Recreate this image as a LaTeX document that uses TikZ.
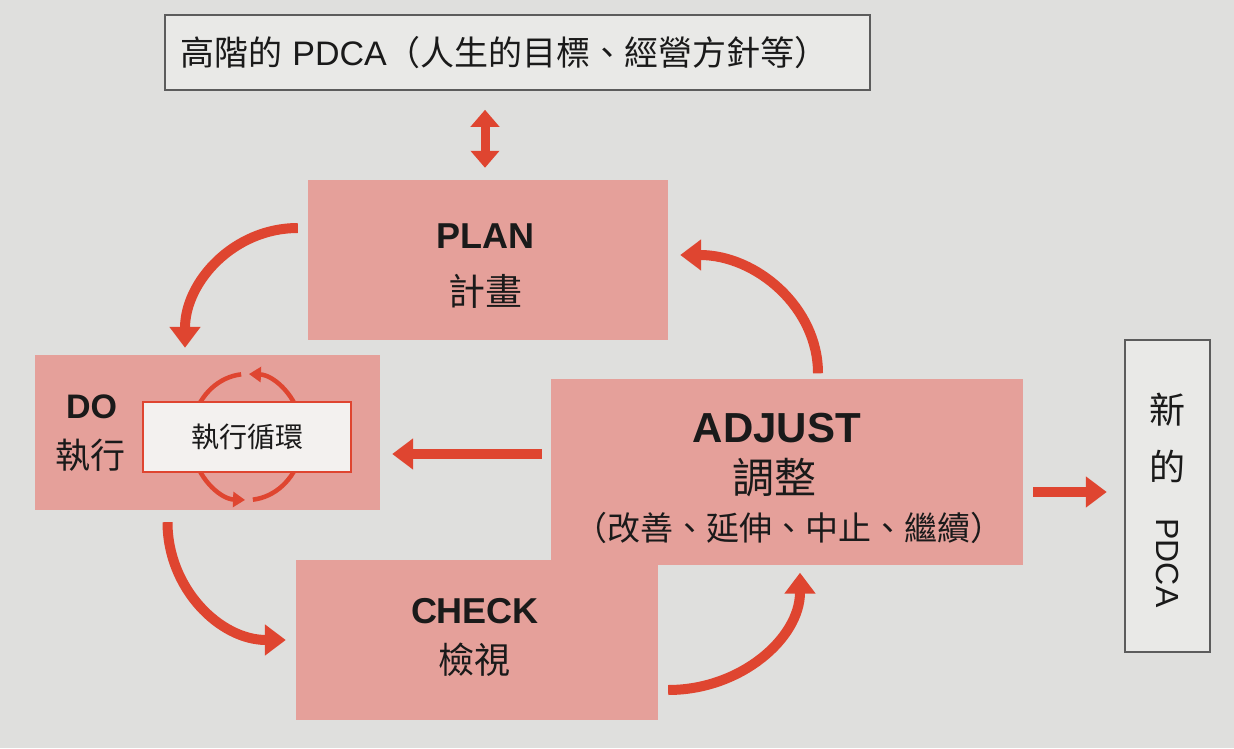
\documentclass[tikz,border=0pt]{standalone}
\usepackage{fontspec}
\setmainfont{Liberation Sans}
\newfontfamily\cjk{Noto Sans CJK TC}
\usetikzlibrary{arrows.meta,calc}

\definecolor{paper}{HTML}{DFDFDD}
\definecolor{boxpink}{HTML}{E5A09A}
\definecolor{arrowred}{HTML}{DF4530}
\definecolor{ink}{HTML}{1A1A1A}
\definecolor{frame}{HTML}{5C5C5C}
\definecolor{innerfill}{HTML}{F3F1EF}

\newcommand{\fs}[1]{\fontsize{#1}{#1}\selectfont}

\begin{document}
\begin{tikzpicture}[x=1pt,y=1pt,
  stagebox/.style={fill=boxpink, draw=none, inner sep=0pt},
  outlinebox/.style={draw=frame, line width=2.5pt, fill=paper!70!white, inner sep=0pt},
  innerbox/.style={draw=arrowred, line width=2.5pt, fill=innerfill, inner sep=0pt},
  txt/.style={text=ink, inner sep=0pt, anchor=center},
  flow/.style={draw=arrowred, line width=10pt, -{Triangle[width=30pt,length=21pt]}},
  twoway/.style={draw=arrowred, line width=9pt, {Triangle[width=28pt,length=17pt]}-{Triangle[width=28pt,length=17pt]}},
  cycle/.style={draw=arrowred, line width=4.5pt},
  cyclehead/.style={cycle, -{Triangle[width=15pt,length=12pt]}}
]
% paper
\fill[paper] (0,0) rectangle (1234,748);
\useasboundingbox (0,0) rectangle (1234,748);

% frames
\node[outlinebox, minimum width=705pt, minimum height=75pt] (top) at (517.5,695.5) {};
\node[txt, anchor=west] (toptext) at ($(top.west)+(17,0)$)
  {\fs{34}{\cjk 高階的} PDCA{\cjk （人生的目標、經營方針等）}};

\node[stagebox, minimum width=360pt, minimum height=160pt] (plan) at (488,488) {};
\node[stagebox, minimum width=345pt, minimum height=155pt] (do) at (207.5,315.5) {};
\node[stagebox, minimum width=472pt, minimum height=185pt] (adjust) at (787,276) {};
\node[stagebox, minimum width=362pt, minimum height=160pt] (check) at (477,108) {};
\node[outlinebox, minimum width=85pt, minimum height=312pt] (new) at (1167.5,252) {};

% PLAN
\node[txt] (plan-en) at ($(plan)+(-3,24)$) {\fs{36}\bfseries PLAN};
\node[txt] (plan-zh) at ($(plan)+(-3,-31)$) {\fs{37}\cjk 計畫};

% DO with its inner loop
\coordinate (loopc) at (247,311);
\draw[cyclehead] (loopc) ++(18:56 and 63) arc[start angle=18, end angle=88, x radius=56, y radius=63];
\draw[cycle] (loopc) ++(96:56 and 63) arc[start angle=96, end angle=162, x radius=56, y radius=63];
\draw[cyclehead] (loopc) ++(198:56 and 63) arc[start angle=198, end angle=268, x radius=56, y radius=63];
\draw[cycle] (loopc) ++(276:56 and 63) arc[start angle=276, end angle=342, x radius=56, y radius=63];
\node[innerbox, minimum width=208pt, minimum height=70pt] (inner) at (loopc) {};
\node[txt] (inner-zh) at (inner) {\fs{28}\cjk 執行循環};
\node[txt] (do-en) at ($(do)+(-116,25.5)$) {\fs{34}\bfseries DO};
\node[txt] (do-zh) at ($(do)+(-117,-23)$) {\fs{35}\cjk 執行};

% ADJUST
\node[txt] (adj-en) at ($(adjust)+(-10,44)$) {\fs{42}\bfseries ADJUST};
\node[txt] (adj-zh) at ($(adjust)+(-13,-6)$) {\fs{42}\cjk 調整};
\node[txt] (adj-note) at ($(adjust)+(2,-56)$) {\fs{33}\cjk （改善、延伸、中止、繼續）};

% CHECK
\node[txt] (chk-en) at ($(check)+(-2,29)$) {\fs{36}\bfseries CHECK};
\node[txt] (chk-zh) at ($(check)+(-3,-20)$) {\fs{36}\cjk 檢視};

% new cycle
\node[txt] (new-1) at ($(new)+(0,86)$) {\fs{36}\cjk 新};
\node[txt] (new-2) at ($(new)+(0,30)$) {\fs{36}\cjk 的};
\node[txt, rotate=-90] (new-3) at ($(new)+(0,-67)$) {\fs{32}PDCA};

% connectors
\draw[twoway] ($(plan.north)+(-3,12)$) -- ($(plan.north)+(-3,70)$);

\coordinate (pd-s) at ($(plan.west)+(-10,32)$);
\coordinate (pd-e) at ($(do.north)+(-22.5,7)$);
\draw[flow] (pd-s) .. controls ($(pd-s)+(-64,0)$) and ($(pd-e)+(0,66)$) .. (pd-e);

\coordinate (dc-s) at ($(do.south)+(-40,-12)$);
\coordinate (dc-e) at ($(check.west)+(-10,0)$);
\draw[flow] (dc-s) .. controls ($(dc-s)+(0,-66)$) and ($(dc-e)+(-66,0)$) .. (dc-e);

\coordinate (ca-s) at ($(check.east)+(10,-50)$);
\coordinate (ca-e) at ($(adjust.south)+(13,-8)$);
\draw[flow] (ca-s) .. controls ($(ca-s)+(73,0)$) and ($(ca-e)+(0,-65)$) .. (ca-e);

\coordinate (ap-s) at ($(adjust.north)+(31,6)$);
\coordinate (ap-e) at ($(plan.east)+(12,5)$);
\draw[flow] (ap-s) .. controls ($(ap-s)+(0,66)$) and ($(ap-e)+(76,0)$) .. (ap-e);

\draw[flow] ($(adjust.west)+(-9,18)$) -- ($(do.east)+(12,-21.5)$);
\draw[flow] ($(adjust.east)+(10,-20)$) -- ($(new.west)+(-17,4)$);
\end{tikzpicture}
\end{document}
